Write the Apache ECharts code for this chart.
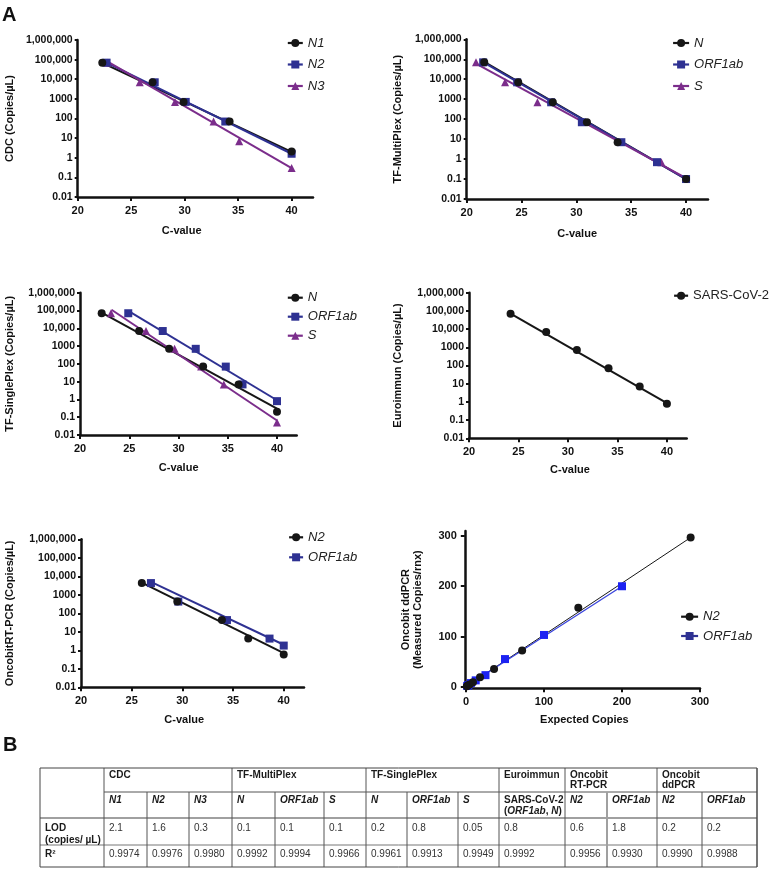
<!DOCTYPE html>
<html><head><meta charset="utf-8">
<script src="https://cdn.jsdelivr.net/npm/echarts@6/dist/echarts.min.js"></script>
<style>html,body{margin:0;padding:0;background:#fff}#c{width:774px;height:870px}</style>
</head><body><div id="c"></div>
<script>
// ================= DATA =================
const logTickLabels = ['0.01','0.1','1','10','100','1000','10,000','100,000','1,000,000'];
const cTicks = [20, 25, 30, 35, 40];
const ddTicks = [0, 100, 200, 300];

// Panel 1: CDC
const cdcN1C = [22.3, 27.0, 29.9, 34.2, 40.0];
const cdcN1Q = [70000, 7000, 700, 70, 2.1];
const cdcN2C = [22.7, 27.2, 30.1, 33.8, 40.0];
const cdcN2Q = [70000, 7000, 700, 70, 1.6];
const cdcN3C = [22.8, 25.8, 29.1, 32.7, 35.1, 40.0];
const cdcN3Q = [70000, 7000, 700, 70, 7, 0.3];
const cdcFitN1C = [22.3, 40.0], cdcFitN1Q = [68000, 2.0];
const cdcFitN2C = [22.7, 40.0], cdcFitN2Q = [70000, 1.6];
const cdcFitN3C = [22.8, 40.0], cdcFitN3Q = [80000, 0.3];

// Panel 2: TF-MultiPlex
const tfmNC = [21.6, 24.7, 27.85, 30.96, 33.76, 40.0];
const tfmNQ = [70000, 7000, 700, 70, 7, 0.1];
const tfmOC = [21.5, 24.6, 27.7, 30.5, 34.1, 37.35, 40.0];
const tfmOQ = [70000, 7000, 700, 70, 7, 0.7, 0.1];
const tfmSC = [20.85, 23.5, 26.45, 37.75, 40.0];
const tfmSQ = [70000, 7000, 700, 0.7, 0.1];
const tfmFitNC = [21.6, 40.0], tfmFitNQ = [75000, 0.1];
const tfmFitOC = [21.5, 40.0], tfmFitOQ = [72000, 0.1];
const tfmFitSC = [20.85, 40.0], tfmFitSQ = [60000, 0.11];

// Panel 3: TF-SinglePlex
const tfsNC = [22.2, 26.0, 29.05, 32.5, 36.1, 40.0];
const tfsNQ = [70000, 7000, 700, 70, 7, 0.2];
const tfsOC = [24.9, 28.4, 31.75, 34.8, 36.5, 40.0];
const tfsOQ = [70000, 7000, 700, 70, 7, 0.8];
const tfsSC = [23.15, 26.7, 29.6, 32.3, 34.6, 40.0];
const tfsSQ = [70000, 7000, 700, 70, 7, 0.05];
const tfsFitNC = [22.2, 40.0], tfsFitNQ = [75000, 0.3];
const tfsFitOC = [24.9, 40.0], tfsFitOQ = [95000, 0.9];
const tfsFitSC = [23.2, 40.0], tfsFitSQ = [110000, 0.065];

// Panel 4: Euroimmun
const euC = [24.2, 27.8, 30.9, 34.1, 37.25, 40.0];
const euQ = [70000, 7000, 700, 70, 7, 0.8];
const euFitC = [24.2, 40.0], euFitQ = [70000, 0.85];

// Panel 5: Oncobit RT-PCR
const rtN2C = [26.0, 29.5, 33.9, 36.5, 40.0];
const rtN2Q = [4300, 430, 43, 4.3, 0.6];
const rtOC = [26.9, 29.6, 34.4, 38.6, 40.0];
const rtOQ = [4300, 430, 43, 4.3, 1.8];
const rtFitN2C = [26.0, 40.0], rtFitN2Q = [4500, 0.7];
const rtFitOC = [26.9, 40.0], rtFitOQ = [5000, 2.0];

// Panel 6: Oncobit ddPCR
const ddN2E = [1.1, 2.25, 4.5, 9, 18, 36, 72, 144, 288];
const ddN2M = [1.0, 2.4, 4.6, 8.8, 19, 35, 72, 157, 297];
const ddOE = [1.56, 3.1, 6.25, 12.5, 25, 50, 100, 200];
const ddOM = [1.5, 3.3, 7.2, 12.6, 23, 55, 103, 200];
const ddFitN2E = [0, 288], ddFitN2M = [0, 297];
const ddFitOE = [0, 200], ddFitOM = [0.5, 200];

// Table (panel B)
const tableGroups = ['CDC', 'TF-MultiPlex', 'TF-SinglePlex', 'Euroimmun', 'Oncobit\nRT-PCR', 'Oncobit\nddPCR'];
const tableGroupSpans = [3, 3, 3, 1, 2, 2];
const tableTargets = ['N1','N2','N3','N','ORF1ab','S','N','ORF1ab','S','SARS','N2','ORF1ab','N2','ORF1ab'];
const lodValues = ['2.1','1.6','0.3','0.1','0.1','0.1','0.2','0.8','0.05','0.8','0.6','1.8','0.2','0.2'];
const r2Values = ['0.9974','0.9976','0.9980','0.9992','0.9994','0.9966','0.9961','0.9913','0.9949','0.9992','0.9956','0.9930','0.9990','0.9988'];

// ================= STYLE / LAYOUT =================
const FONT = '"Liberation Sans", Arial, Helvetica, sans-serif';
const BLACK = '#161616', NAVY = '#2e3192', PURPLE = '#7b2d8b', BRIGHT = '#1c22f2', BRIGHTLINE = '#3a44dc';
const zip = (a, b) => a.map((v, i) => [v, b[i]]);

const panels = [
  { grid: {left: 77.7, top: 40, width: 235.3, height: 157}, log: true, xmin: 20, xmax: 42,
    yName: 'CDC (Copies/µL)', yGap: 62, xName: 'C-value', xGap: 28, xShift: 13.7,
    legend: {left: 286.7, top: 36.5, itemGap: 8.5, textGap: 10, itemWidth: 15, italic: true},
    sets: [
      {id: 'p1N1', label: 'N1', c: cdcN1C, q: cdcN1Q, fc: cdcFitN1C, fq: cdcFitN1Q, color: BLACK, symbol: 'circle'},
      {id: 'p1N2', label: 'N2', c: cdcN2C, q: cdcN2Q, fc: cdcFitN2C, fq: cdcFitN2Q, color: NAVY, symbol: 'rect'},
      {id: 'p1N3', label: 'N3', c: cdcN3C, q: cdcN3Q, fc: cdcFitN3C, fq: cdcFitN3Q, color: PURPLE, symbol: 'triangle'}
    ]},
  { grid: {left: 466.7, top: 39.3, width: 241.3, height: 159.7}, log: true, xmin: 20, xmax: 42,
    yName: 'TF-MultiPlex (Copies/µL)', yGap: 62.7, xName: 'C-value', xGap: 29, xShift: 10.2,
    legend: {left: 672, top: 36.5, itemGap: 8.5, textGap: 10, itemWidth: 16, italic: true},
    sets: [
      {id: 'p2N', label: 'N', c: tfmNC, q: tfmNQ, fc: tfmFitNC, fq: tfmFitNQ, color: BLACK, symbol: 'circle'},
      {id: 'p2O', label: 'ORF1ab', c: tfmOC, q: tfmOQ, fc: tfmFitOC, fq: tfmFitOQ, color: NAVY, symbol: 'rect'},
      {id: 'p2S', label: 'S', c: tfmSC, q: tfmSQ, fc: tfmFitSC, fq: tfmFitSQ, color: PURPLE, symbol: 'triangle'}
    ]},
  { grid: {left: 80, top: 292.7, width: 216.7, height: 142.3}, log: true, xmin: 20, xmax: 42,
    yName: 'TF-SinglePlex (Copies/µL)', yGap: 64, xName: 'C-value', xGap: 27, xShift: 9.7,
    legend: {left: 286.7, top: 291.2, itemGap: 6, textGap: 8, itemWidth: 15, italic: true},
    sets: [
      {id: 'p3N', label: 'N', c: tfsNC, q: tfsNQ, fc: tfsFitNC, fq: tfsFitNQ, color: BLACK, symbol: 'circle'},
      {id: 'p3O', label: 'ORF1ab', c: tfsOC, q: tfsOQ, fc: tfsFitOC, fq: tfsFitOQ, color: NAVY, symbol: 'rect'},
      {id: 'p3S', label: 'S', c: tfsSC, q: tfsSQ, fc: tfsFitSC, fq: tfsFitSQ, color: PURPLE, symbol: 'triangle'}
    ]},
  { grid: {left: 469, top: 292.7, width: 217.7, height: 145.6}, log: true, xmin: 20, xmax: 42,
    yName: 'Euroimmun (Copies/µL)', yGap: 65.5, xName: 'C-value', xGap: 26, xShift: 7.9,
    legend: {left: 673, top: 289.2, itemGap: 6, textGap: 3, itemWidth: 14, italic: false},
    sets: [
      {id: 'p4S', label: 'SARS-CoV-2', c: euC, q: euQ, fc: euFitC, fq: euFitQ, color: BLACK, symbol: 'circle'}
    ]},
  { grid: {left: 81, top: 539.3, width: 223, height: 148}, log: true, xmin: 20, xmax: 42,
    yName: 'OncobitRT-PCR (Copies/µL)', yGap: 65, xName: 'C-value', xGap: 27, xShift: 8.3,
    legend: {left: 288, top: 530.8, itemGap: 7, textGap: 10, itemWidth: 14, italic: true},
    sets: [
      {id: 'p5N2', label: 'N2', c: rtN2C, q: rtN2Q, fc: rtFitN2C, fq: rtFitN2Q, color: BLACK, symbol: 'circle'},
      {id: 'p5O', label: 'ORF1ab', c: rtOC, q: rtOQ, fc: rtFitOC, fq: rtFitOQ, color: NAVY, symbol: 'rect'}
    ]},
  { grid: {left: 464.8, top: 531, width: 235.2, height: 157.2}, log: false, xmin: -1.5, xmax: 300, ymin: -3, ymax: 310,
    yName: 'Oncobit ddPCR\n(Measured Copies/rnx)', yGap: 41, xName: 'Expected Copies', xGap: 26, xShift: -2,
    legend: {left: 680, top: 610.2, itemGap: 6.3, textGap: 4.5, itemWidth: 17, italic: true},
    sets: [
      {id: 'p6N2', label: 'N2', c: ddN2E, q: ddN2M, fc: ddFitN2E, fq: ddFitN2M, color: BLACK, lineColor: BLACK, symbol: 'circle', lw: 1},
      {id: 'p6O', label: 'ORF1ab', c: ddOE, q: ddOM, fc: ddFitOE, fq: ddFitOM, color: BRIGHT, lineColor: BRIGHTLINE, legendColor: NAVY, symbol: 'rect', lw: 1.3}
    ]}
];

const grids = [], xAxes = [], yAxes = [], series = [], legends = [];
const labelMap = {};

panels.forEach((p, gi) => {
  grids.push(Object.assign({outerBoundsMode: 'none', containLabel: false}, p.grid));
  const ticks = p.log ? cTicks : ddTicks;
  const pad = p.xShift > 0 ? [0, 2 * p.xShift, 0, 0] : [0, 0, 0, -2 * p.xShift];
  xAxes.push({
    type: 'value', gridIndex: gi, min: p.xmin, max: p.xmax,
    name: p.xName, nameLocation: 'middle', nameGap: p.xGap,
    nameTextStyle: {fontSize: 11, fontWeight: 'bold', color: '#111', fontFamily: FONT, padding: pad},
    axisLine: {show: true, onZero: false, lineStyle: {color: '#111', width: 2.5}},
    axisTick: {show: true, length: 4, lineStyle: {color: '#111', width: 2}, customValues: ticks},
    axisLabel: {customValues: ticks, fontSize: 11, fontWeight: 'bold', color: '#111', margin: 8, fontFamily: FONT},
    splitLine: {show: false}
  });
  const yBase = {
    gridIndex: gi, name: p.yName, nameLocation: 'middle', nameGap: p.yGap,
    nameTextStyle: {fontSize: 11, fontWeight: 'bold', color: '#111', fontFamily: FONT, lineHeight: 12},
    axisLine: {show: true, onZero: false, lineStyle: {color: '#111', width: 2.5}},
    splitLine: {show: false}
  };
  if (p.log) {
    yAxes.push(Object.assign(yBase, {
      type: 'log', logBase: 10, min: 0.01, max: 1000000,
      axisTick: {show: true, length: 3, lineStyle: {color: '#111', width: 2}},
      axisLabel: {fontSize: 10.5, fontWeight: 'bold', color: '#111', margin: 5, fontFamily: FONT,
        formatter: v => logTickLabels[Math.round(Math.log10(v)) + 2]}
    }));
  } else {
    yAxes.push(Object.assign(yBase, {
      type: 'value', min: p.ymin, max: p.ymax,
      axisTick: {show: true, length: 4, lineStyle: {color: '#111', width: 2}, customValues: ddTicks},
      axisLabel: {customValues: ddTicks, fontSize: 11, fontWeight: 'bold', color: '#111', margin: 8, fontFamily: FONT}
    }));
  }
  // fit lines
  p.sets.forEach(s => {
    series.push({
      type: 'line', name: s.id + '_fit', xAxisIndex: gi, yAxisIndex: gi, data: zip(s.fc, s.fq),
      symbol: 'none', silent: true, z: 2,
      lineStyle: {color: s.lineColor || s.color, width: s.lw || 2}
    });
  });
  // points (reverse so first legend item is on top)
  p.sets.slice().reverse().forEach(s => {
    labelMap[s.id] = s.label;
    series.push({
      type: 'line', name: s.id, xAxisIndex: gi, yAxisIndex: gi, data: zip(s.c, s.q),
      symbol: s.symbol, symbolSize: 8, showSymbol: true, z: 3,
      itemStyle: {color: s.color}, lineStyle: {color: s.color, width: 2, opacity: 0}
    });
  });
  legends.push({
    show: true, orient: 'vertical', left: p.legend.left, top: p.legend.top,
    itemGap: p.legend.itemGap, itemWidth: p.legend.itemWidth, itemHeight: 10, itemTextGap: p.legend.textGap,
    padding: 0, selectedMode: false,
    data: p.sets.map(s => {
      const d = {name: s.id};
      if (s.legendColor) { d.itemStyle = {color: s.legendColor}; d.lineStyle = {color: s.legendColor, width: 2.2, opacity: 1}; }
      return d;
    }),
    formatter: n => labelMap[n],
    lineStyle: {opacity: 1, width: 2.2},
    textStyle: {fontSize: 13, color: '#222', fontFamily: FONT, fontStyle: p.legend.italic ? 'italic' : 'normal'}
  });
});

// ================= TABLE (graphic) =================
const colX = [40, 104, 147, 189, 232, 275, 324, 366, 407, 458, 499, 565, 607, 657, 702, 757];
const rowY = [768, 792, 818, 845, 867];
const graphics = [];
const line = (x1, y1, x2, y2, stroke, w) => graphics.push({type: 'line', silent: true,
  shape: {x1, y1, x2, y2}, style: {stroke, lineWidth: w}});
const txt = (x, y, text, opts) => graphics.push({type: 'text', silent: true, x, y,
  style: Object.assign({text, fontFamily: FONT, fontSize: 10, fill: '#222', verticalAlign: 'top', align: 'left', lineHeight: 10.5}, opts || {})});

// panel letters
txt(2, 5, 'A', {fontSize: 20, fontWeight: 'bold', fill: '#111', lineHeight: 20});
txt(3, 735, 'B', {fontSize: 20, fontWeight: 'bold', fill: '#111', lineHeight: 20});

// grid lines
const groupEdges = [colX[1]];
{ let ci = 1; tableGroupSpans.forEach(sp => { ci += sp; groupEdges.push(colX[ci]); }); }
line(colX[1], rowY[1], colX[15], rowY[1], '#555', 1);
line(colX[0], rowY[2], colX[15], rowY[2], '#a0a0a0', 2);
line(colX[0], rowY[3], colX[15], rowY[3], '#777', 1);
for (let c = 2; c < 15; c++) {
  if (groupEdges.indexOf(colX[c]) < 0) {
    const gray = colX[c] === 607;
    line(colX[c], rowY[1], colX[c], rowY[4], gray ? '#a0a0a0' : '#555', gray ? 2 : 1);
  }
}
groupEdges.forEach(x => line(x, rowY[0], x, rowY[4], '#555', 1));
graphics.push({type: 'rect', silent: true, shape: {x: colX[0], y: rowY[0], width: colX[15] - colX[0], height: rowY[4] - rowY[0]},
  style: {fill: 'none', stroke: '#444', lineWidth: 1}});

// header groups
{ let ci = 1; tableGroups.forEach((g, i) => {
  txt(colX[ci] + 5, rowY[0] + 2, g, {fontWeight: 'bold', fill: '#1a1a1a', lineHeight: 10});
  ci += tableGroupSpans[i];
}); }
// targets
tableTargets.forEach((t, i) => {
  const x = colX[i + 1] + 5, y = rowY[1] + 3;
  if (t === 'SARS') {
    txt(x, y, '{b|SARS-CoV-2}\n{b|(}{bi|ORF1ab}{b|, }{bi|N}{b|)}', {rich: {
      b: {fontFamily: FONT, fontSize: 10, fontWeight: 'bold', fill: '#1a1a1a', lineHeight: 10.5},
      bi: {fontFamily: FONT, fontSize: 10, fontWeight: 'bold', fontStyle: 'italic', fill: '#1a1a1a', lineHeight: 10.5}}});
  } else {
    txt(x, y, t, {fontWeight: 'bold', fontStyle: 'italic', fill: '#1a1a1a'});
  }
});
txt(colX[0] + 5, rowY[2] + 4.5, 'LOD\n(copies/ µL)', {fontWeight: 'bold', fill: '#1a1a1a', lineHeight: 12});
txt(colX[0] + 5, rowY[3] + 4, 'R²', {fontWeight: 'bold', fill: '#1a1a1a'});
lodValues.forEach((v, i) => txt(colX[i + 1] + 5, rowY[2] + 4.5, v, {fill: '#333'}));
r2Values.forEach((v, i) => txt(colX[i + 1] + 5, rowY[3] + 4, v, {fill: '#333'}));

const chart = echarts.init(document.getElementById('c'), null, {renderer: 'canvas'});
chart.setOption({
  animation: false,
  backgroundColor: '#fff',
  textStyle: {fontFamily: FONT},
  grid: grids, xAxis: xAxes, yAxis: yAxes, series: series, legend: legends,
  graphic: graphics
});
</script></body></html>
